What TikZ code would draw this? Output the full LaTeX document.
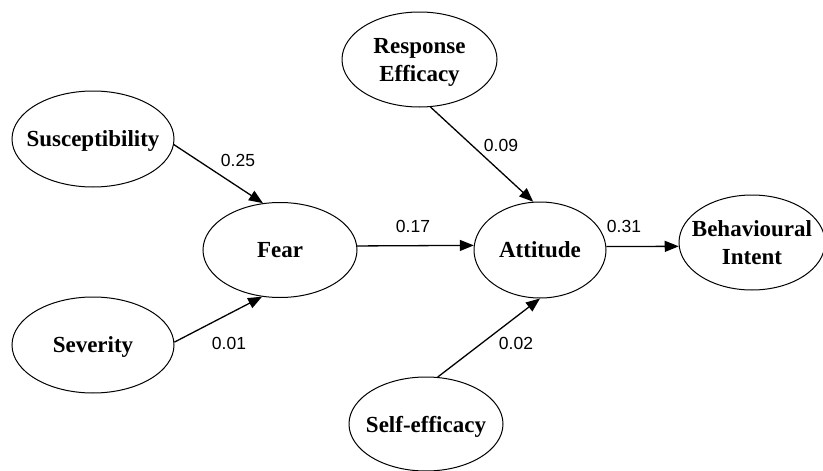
\documentclass[tikz,border=0pt]{standalone}
\usepackage{fontspec}
\setmainfont{Liberation Serif}
\newfontfamily\numfont{Liberation Sans}
\usetikzlibrary{shapes.geometric,arrows.meta}
\begin{document}
\begin{tikzpicture}[x=1pt,y=-1pt,
  ell/.style={draw, ellipse, line width=1pt, inner sep=0pt},
  lab/.style={font=\fontsize{23}{28}\selectfont\bfseries, align=center, text depth=0pt, inner sep=0pt},
  coef/.style={font=\numfont\fontsize{17.5}{20}\selectfont, inner sep=0pt},
  conn/.style={-{Triangle[length=14pt,width=11pt]}, line width=1.3pt}]
\useasboundingbox (0,0) rectangle (823,471);
\node[ell, minimum width=162pt, minimum height=96pt, label={[lab]center:Susceptibility}] (sus) at (93,139) {};
\node[ell, minimum width=162pt, minimum height=96pt, label={[lab]center:Severity}] (sev) at (93,345) {};
\node[ell, minimum width=154pt, minimum height=95pt, label={[lab]center:Fear}] (fear) at (280,250) {};
\node[ell, minimum width=155pt, minimum height=95pt, label={[lab]center:Response\\Efficacy}] (re) at (419.5,59.5) {};
\node[ell, minimum width=132pt, minimum height=96pt, label={[lab]center:Attitude}] (att) at (540,250) {};
\node[ell, minimum width=154pt, minimum height=94pt, label={[lab]center:Self-efficacy}] (se) at (426,424) {};
\node[ell, minimum width=146pt, minimum height=95pt, label={[lab]center:Behavioural\\Intent}] (bi) at (752,242.5) {};
\draw[conn] (sus.-4) -- (fear.110);
\draw[conn] (sev.2) -- (fear.-111);
\draw[conn] (fear.3) -- (att.176.5);
\draw[conn] (att.3.5) -- (bi.183);
\draw[conn] (re.-77.5) -- (att.98);
\draw[conn] (se.76.5) -- (att.-90);
\node[coef] (c1) at (238,160) {0.25};
\node[coef] (c2) at (229,343) {0.01};
\node[coef] (c3) at (413,226) {0.17};
\node[coef] (c4) at (501,145) {0.09};
\node[coef] (c5) at (624,226) {0.31};
\node[coef] (c6) at (516,343) {0.02};
\end{tikzpicture}
\end{document}
